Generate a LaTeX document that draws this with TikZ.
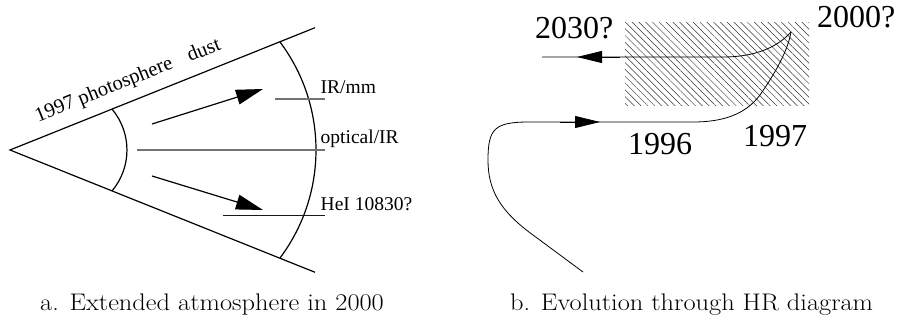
\documentclass[tikz,border=0pt]{standalone}
\usepackage{fontspec}
\newfontfamily\tnr{Liberation Serif}
\usetikzlibrary{arrows.meta,patterns.meta}
\tikzset{
  thick line/.style={line width=1.2pt, black},
  thin curve/.style={line width=0.8pt, black},
  bigarrow/.style={line width=1.2pt, -{Triangle[length=27pt,width=15pt]}},
  midarrow/.style={line width=0.8pt, -{Triangle[length=25pt,width=12pt]}},
  grayline/.style={line width=1.1pt, black!55},
  darkline/.style={line width=1pt, black!90},
  lbl/.style={font=\tnr\fontsize{19.5}{22}\selectfont, anchor=base west, inner sep=0pt},
  rotlbl/.style={font=\tnr\fontsize{20.5}{23}\selectfont, anchor=base west, inner sep=0pt, rotate=21.85},
  biglbl/.style={font=\tnr\fontsize{32}{36}\selectfont, anchor=base west, inner sep=0pt},
  caption/.style={font=\fontsize{24}{28}\selectfont\addfontfeature{OpticalSize=10}, anchor=base west, inner sep=0pt, xscale=1.1},
}
\begin{document}
\begin{tikzpicture}[x=1pt,y=-1pt]
\useasboundingbox (0,0) rectangle (898,320);
% ---------- panel a ----------
\coordinate (apex) at (10,150);
\coordinate (up) at (315,27.7);
\coordinate (lo) at (315,272.3);
\draw[thick line] (up) -- (apex) -- (lo);
\draw[thick line] (112.1,109.2) arc[start angle=-40, end angle=40, radius=63.5];
\draw[thick line] (280,42) arc[start angle=-36.87, end angle=36.87, radius=180];
\coordinate (a1s) at (152,124);
\coordinate (a1e) at (263,89);
\coordinate (a2s) at (152,176);
\coordinate (a2e) at (263,210);
\draw[bigarrow] (a1s) -- (a1e);
\draw[bigarrow] (a2s) -- (a2e);
\coordinate (irA) at (275,99);
\coordinate (irB) at (325,99);
\coordinate (opA) at (137,150);
\coordinate (opB) at (325,150);
\coordinate (heA) at (223,216);
\coordinate (heB) at (325,216);
\draw[grayline] (irA) -- (irB);
\draw[grayline] (opA) -- (opB);
\draw[darkline] (heA) -- (heB);
\node[lbl] (irmm) at (320.5,93.5) {IR/mm};
\node[lbl] (optir) at (320.5,144) {optical/IR};
\node[lbl] (hei) at (320.5,211) {HeI 10830?};
\node[rotlbl] (photo) at (38,122.5) {1997 photosphere};
\node[rotlbl] (dust) at (190,62) {dust};
\node[caption] (capa) at (40,311) {a. Extended atmosphere in 2000};
% ---------- panel b ----------
\path[pattern={Lines[angle=-45,distance=4.8pt,line width=0.5pt]}, pattern color=black!80]
  (625,23) rectangle (809,106);
\coordinate (start) at (583,272);
\coordinate (bend) at (533,235);
\coordinate (turn) at (530,122);
\coordinate (y96) at (693,122);
\coordinate (tip) at (791,32);
\coordinate (back) at (723,57);
\coordinate (endl) at (542,57);
\draw[thin curve] (start) -- (bend) .. controls (500,211) and (488,190) .. (488,160)
  .. controls (488,128) and (495,122) .. (turn) -- (y96)
  .. controls (722,122) and (745,115) .. (760,95)
  .. controls (776,72) and (788,50) .. (tip);
\draw[thin curve] (tip) .. controls (775,50) and (750,57) .. (back) -- (endl);
\coordinate (ar1s) at (560,122);
\coordinate (ar1e) at (600,122);
\coordinate (ar2s) at (620,57);
\coordinate (ar2e) at (577,57);
\draw[midarrow] (ar1s) -- (ar1e);
\draw[midarrow] (ar2s) -- (ar2e);
\node[biglbl] (l2030) at (535,39) {2030?};
\node[biglbl] (l2000) at (817,28) {2000?};
\node[biglbl] (l1996) at (628,155) {1996};
\node[biglbl] (l1997) at (743,147) {1997};
\node[caption] (capb) at (510,311) {b. Evolution through HR diagram};
\end{tikzpicture}
\end{document}
